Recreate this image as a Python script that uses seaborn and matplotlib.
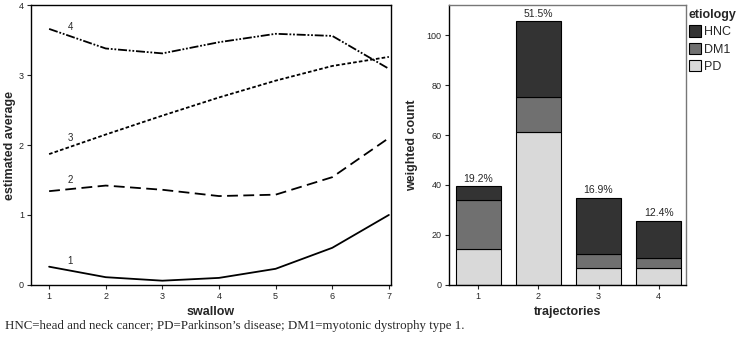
import seaborn as sns
import matplotlib.pyplot as plt
import pandas as pd
import numpy as np

swallow = [1, 2, 3, 4, 5, 6, 7]
traj1 = [0.26, 0.11, 0.06, 0.10, 0.23, 0.53, 1.00]
traj2 = [1.34, 1.42, 1.36, 1.27, 1.29, 1.54, 2.10]
traj3 = [1.87, 2.15, 2.42, 2.68, 2.92, 3.13, 3.26]
traj4 = [3.66, 3.38, 3.31, 3.47, 3.59, 3.56, 3.09]

trajectories = ['1', '2', '3', '4']
pd_counts = [14.2, 61.1, 6.9, 6.9]
dm1_counts = [19.8, 14.1, 5.5, 3.8]
hnc_counts = [5.5, 30.4, 22.4, 15.0]
pct_labels = ['19.2%', '51.5%', '16.9%', '12.4%']

sns.set_style('ticks')
plt.rcParams['font.family'] = ['Liberation Sans', 'DejaVu Sans']

fig = plt.figure(figsize=(7.38, 3.42), dpi=100)
ax1 = fig.add_axes([0.042, 0.167, 0.488, 0.818])
ax2 = fig.add_axes([0.608, 0.167, 0.322, 0.818])

# left panel: trajectories over swallows
dashes = [None, (0, (6, 3)), (0, (2, 1.2)), (0, (5, 1, 1, 1, 1, 1))]
series = [traj1, traj2, traj3, traj4]
for i, vals in enumerate(series):
    df = pd.DataFrame({'swallow': swallow, 'value': vals})
    sns.lineplot(data=df, x='swallow', y='value', ax=ax1, color='black', lw=1.3)
    if dashes[i] is not None:
        ax1.lines[-1].set_linestyle(dashes[i])
    xl = 1.37
    ax1.text(xl, np.interp(xl, swallow, vals) + 0.13, str(i + 1),
             fontsize=7, ha='center', va='center')

ax1.set_xlim(0.68, 7.04)
ax1.set_ylim(0, 4)
ax1.set_xticks(swallow)
ax1.set_yticks([0, 1, 2, 3, 4])
ax1.set_xlabel('swallow', fontsize=9, fontweight='bold')
ax1.set_ylabel('estimated average', fontsize=9, fontweight='bold', labelpad=2)
for s in ax1.spines.values():
    s.set_color('black')
    s.set_linewidth(1.0)
ax1.tick_params(labelsize=6.5, length=3, width=0.8, pad=2)

# right panel: stacked counts by etiology
colors = {'HNC': '#333333', 'DM1': '#707070', 'PD': '#d9d9d9'}
bar_df = pd.DataFrame({'trajectories': trajectories, 'PD': pd_counts,
                       'DM1': dm1_counts, 'HNC': hnc_counts})
bottom = np.zeros(len(trajectories))
for et in ['PD', 'DM1', 'HNC']:
    sns.barplot(data=bar_df, x='trajectories', y=et, ax=ax2, color=colors[et],
                bottom=bottom, width=0.75, edgecolor='black', linewidth=0.8,
                saturation=1, label=et)
    bottom = bottom + bar_df[et].values

for i, lab in enumerate(pct_labels):
    ax2.text(i, bottom[i] + 1.0, lab, ha='center', va='bottom', fontsize=7.5)

ax2.set_xlim(-0.49, 3.46)
ax2.set_ylim(0, 112)
ax2.set_yticks([0, 20, 40, 60, 80, 100])
ax2.set_xlabel('trajectories', fontsize=9, fontweight='bold')
ax2.set_ylabel('weighted count', fontsize=9, fontweight='bold', labelpad=6)
for s in ax2.spines.values():
    s.set_color('#777777')
    s.set_linewidth(1.0)
ax2.spines['left'].set_color('black')
ax2.spines['bottom'].set_color('black')
ax2.tick_params(labelsize=6.5, length=3, width=0.8, pad=2)

handles, labels = ax2.get_legend_handles_labels()
order = [labels.index(k) for k in ['HNC', 'DM1', 'PD']]
leg = ax2.legend([handles[k] for k in order], ['HNC', 'DM1', 'PD'],
                 title='etiology', loc='upper left', bbox_to_anchor=(1.0, 0.995),
                 frameon=False, fontsize=9, handlelength=1.0, handleheight=1.0,
                 handletextpad=0.2, labelspacing=0.35, borderaxespad=0.1,
                 borderpad=0.1)
leg.get_title().set_fontweight('bold')
leg.get_title().set_fontsize(9)
leg._legend_box.align = 'left'

fig.text(0.007, 0.047, 'HNC=head and neck cancer; PD=Parkinson\u2019s disease; DM1=myotonic dystrophy type 1.',
         fontsize=9.3, family=['Liberation Serif', 'DejaVu Serif'], va='center')

fig.savefig('out.png', dpi=100)
